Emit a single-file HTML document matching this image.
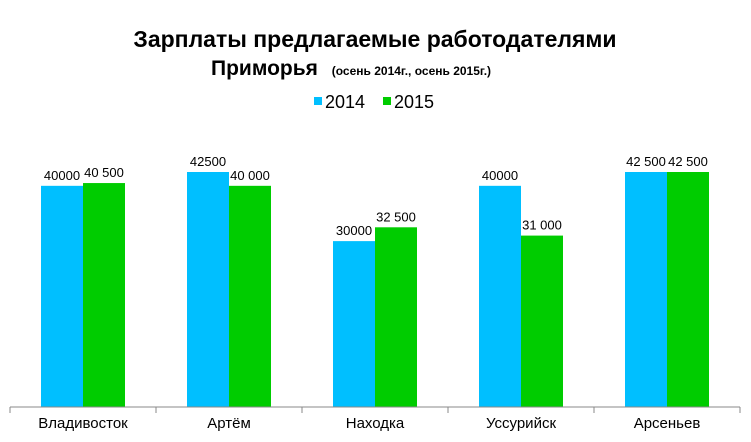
<!DOCTYPE html>
<html><head><meta charset="utf-8"><style>
body{margin:0;background:#fff;}
svg{display:block;font-family:"Liberation Sans",Arial,sans-serif;}
</style></head><body>
<svg width="751" height="442" viewBox="0 0 751 442">
<text x="375" y="47" text-anchor="middle" font-size="23" font-weight="bold" fill="#000">Зарплаты предлагаемые работодателями</text>
<text x="211" y="75" font-size="21" font-weight="bold" fill="#000">Приморья <tspan font-size="12" dx="8">(осень 2014г., осень 2015г.)</tspan></text>
<g>
<rect x="314" y="97" width="8" height="8" fill="#00bfff"/>
<text x="325" y="108" font-size="18" fill="#000">2014</text>
<rect x="383" y="97" width="8" height="8" fill="#00cc00"/>
<text x="394" y="108" font-size="18" fill="#000">2015</text>
</g>
<g id="plot"></g>
</svg>
<script>
const categories=["Владивосток","Артём","Находка","Уссурийск","Арсеньев"];
const values2014=[40000,42500,30000,40000,42500];
const values2015=[40500,40000,32500,31000,42500];
const labels2014=["40000","42500","30000","40000","42 500"];
const labels2015=["40 500","40 000","32 500","31 000","42 500"];
const NS="http://www.w3.org/2000/svg";
const g=document.getElementById('plot');
const x0=10,x1=740,base=407,scale=235/42500;
const gw=(x1-x0)/categories.length,bw=42;
function yv(v){return base-v*scale;}
function xc(i){return x0+gw*(i+0.5);}
function mk(t,a){const e=document.createElementNS(NS,t);for(const k in a)e.setAttribute(k,a[k]);g.appendChild(e);return e;}
categories.forEach((c,i)=>{
 const cx=xc(i);
 [[values2014,labels2014,"#00bfff",-bw,"2014"],[values2015,labels2015,"#00cc00",0,"2015"]].forEach(s=>{
  const v=s[0][i];
  const r=mk('rect',{x:cx+s[3],y:yv(v),width:bw,height:base-yv(v),fill:s[2]});
  
  
  const t=mk('text',{x:cx+s[3]+bw/2,y:yv(v)-6,'text-anchor':'middle','font-size':13,fill:'#000'});
  t.textContent=s[1][i];
  
  
 });
 const l=mk('text',{x:cx,y:428,'text-anchor':'middle','font-size':15,fill:'#000'});
 l.textContent=c;
 
 
});
const ax=mk('line',{x1:x0,y1:base,x2:x1,y2:base,stroke:'#888','stroke-width':1});


for(let i=0;i<=categories.length;i++){
 const tk=mk('line',{x1:x0+gw*i,y1:base,x2:x0+gw*i,y2:base+6,stroke:'#888'});
 
 
}
</script>
</body></html>
